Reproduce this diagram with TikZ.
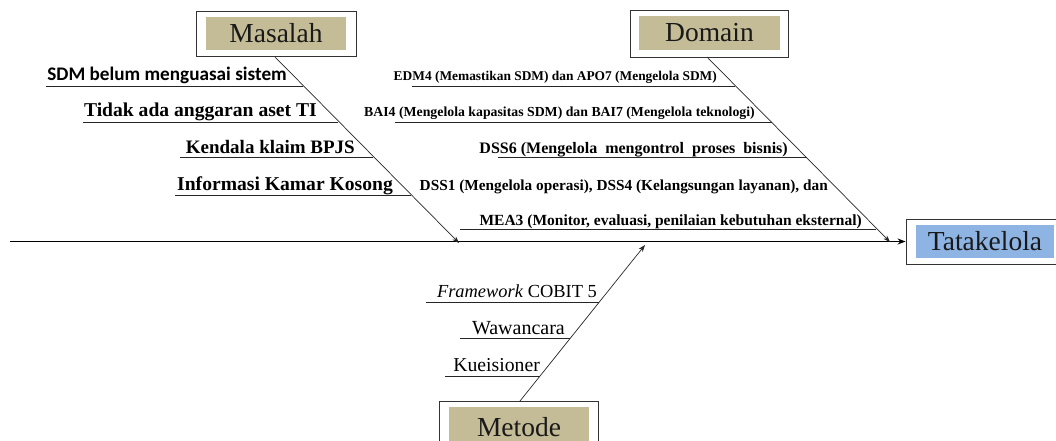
\documentclass[tikz,border=0pt]{standalone}
\usepackage{fontspec}
\setmainfont{Liberation Serif}
\newfontfamily\calib{Carlito}
\usetikzlibrary{arrows.meta}
\definecolor{tan}{HTML}{C4BC96}
\definecolor{skyb}{HTML}{8EB4E3}
\begin{document}
\begin{tikzpicture}[x=1pt,y=-1pt,
  outerbox/.style={draw=black!80, line width=0.9pt, fill=white, inner sep=0pt},
  innerbox/.style={fill=#1, inner sep=0pt, font=\fontsize{27.5}{28}\selectfont, text=black!90},
  spine/.style={draw=black!85, line width=0.7pt, -{Stealth[length=7pt,width=5pt]}},
  mainline/.style={draw=black, line width=1.1pt, -{Stealth[length=8pt,width=6pt]}},
  rib/.style={draw=black!85, line width=0.7pt},
  lbl/.style={inner sep=0pt, anchor=base east, font=\bfseries\fontsize{#1}{#1}\selectfont},
  mlbl/.style={inner sep=0pt, anchor=base east, font=\fontsize{#1}{#1}\selectfont}
]
\useasboundingbox (0,0) rectangle (1056,441);

% boxes
\node[outerbox, minimum width=160pt, minimum height=45pt] (mo) at (276,33.5) {};
\node[innerbox=tan, minimum width=140pt, minimum height=33pt] (mi) at (276,33.5) {Masalah};
\node[outerbox, minimum width=158pt, minimum height=47pt] (do) at (709,33.5) {};
\node[innerbox=tan, minimum width=141pt, minimum height=34pt] (di) at (709.5,33) {Domain};
\node[outerbox, minimum width=156pt, minimum height=45pt] (to) at (984,241.5) {};
\node[innerbox=skyb, minimum width=138pt, minimum height=33pt] (ti) at (985,241.5) {Tatakelola};
\node[outerbox, minimum width=159pt, minimum height=60pt] (meo) at (518.5,431) {};
\node[innerbox=tan, minimum width=140pt, minimum height=40pt] (mei) at (519,427) {\raisebox{-2pt}{Metode}};

% coordinates
\coordinate (mstart) at (275,57);
\coordinate (mtip) at (459,243);
\coordinate (dstart) at (707,57);
\coordinate (dtip) at (890,242);
\coordinate (estart) at (520,401);
\coordinate (etip) at (645,245);
\coordinate (lstart) at (10,241.5);

% main line
\draw[mainline] (lstart) -- (to.west);
% spines
\draw[spine] (mstart) -- (mtip);
\draw[spine] (dstart) -- (dtip);
\draw[spine] (estart) -- (etip);

% Masalah ribs
\coordinate (m1a) at (46,86);  \coordinate (m1b) at (303,86);
\coordinate (m2a) at (83,122); \coordinate (m2b) at (338,122);
\coordinate (m3a) at (180,157); \coordinate (m3b) at (373,157);
\coordinate (m4a) at (175,195); \coordinate (m4b) at (411,195);
\draw[rib] (m1a) -- (m1b);
\draw[rib] (m2a) -- (m2b);
\draw[rib] (m3a) -- (m3b);
\draw[rib] (m4a) -- (m4b);
\node[lbl=19, font=\calib\bfseries\fontsize{19.2}{19.2}\selectfont] (t1) at (287,81) {SDM belum menguasai sistem};
\node[lbl=19.6] (t2) at (317,117) {Tidak ada anggaran aset TI};
\node[lbl=19] (t3) at (355,153) {Kendala klaim BPJS};
\node[lbl=19.6] (t4) at (393,190) {Informasi Kamar Kosong};

% Domain ribs
\coordinate (d1a) at (412,86);  \coordinate (d1b) at (735,86);
\coordinate (d2a) at (395,122); \coordinate (d2b) at (772,122);
\coordinate (d3a) at (498,157); \coordinate (d3b) at (807,157);
\coordinate (d5a) at (460,229); \coordinate (d5b) at (876,229);
\draw[rib] (d1a) -- (d1b);
\draw[rib] (d2a) -- (d2b);
\draw[rib] (d3a) -- (d3b);
\draw[rib] (d5a) -- (d5b);
\node[lbl=13.4] (u1) at (717,81) {EDM4 (Memastikan SDM) dan APO7 (Mengelola SDM)};
\node[lbl=13.8] (u2) at (755,117) {BAI4 (Mengelola kapasitas SDM) dan BAI7 (Mengelola teknologi)};
\node[lbl=16] (u3) at (788,153) {DSS6 (Mengelola\ \ mengontrol\ \ proses\ \ bisnis)};
\node[lbl=15.3] (u4) at (828,190) {DSS1 (Mengelola operasi), DSS4 (Kelangsungan layanan), dan};
\node[lbl=15.5] (u5) at (862,225) {MEA3 (Monitor, evaluasi, penilaian kebutuhan eksternal)};

% Metode ribs
\coordinate (e1a) at (426,302); \coordinate (e1b) at (599,302);
\coordinate (e2a) at (460,338); \coordinate (e2b) at (570,338);
\coordinate (e3a) at (445,376); \coordinate (e3b) at (540,376);
\draw[rib] (e1a) -- (e1b);
\draw[rib] (e2a) -- (e2b);
\draw[rib] (e3a) -- (e3b);
\node[mlbl=18.4] (v1) at (597,297) {\textit{Framework} COBIT 5};
\node[mlbl=20] (v2) at (565,334) {Wawancara};
\node[mlbl=19.7] (v3) at (540,371) {Kueisioner};
\end{tikzpicture}
\end{document}
